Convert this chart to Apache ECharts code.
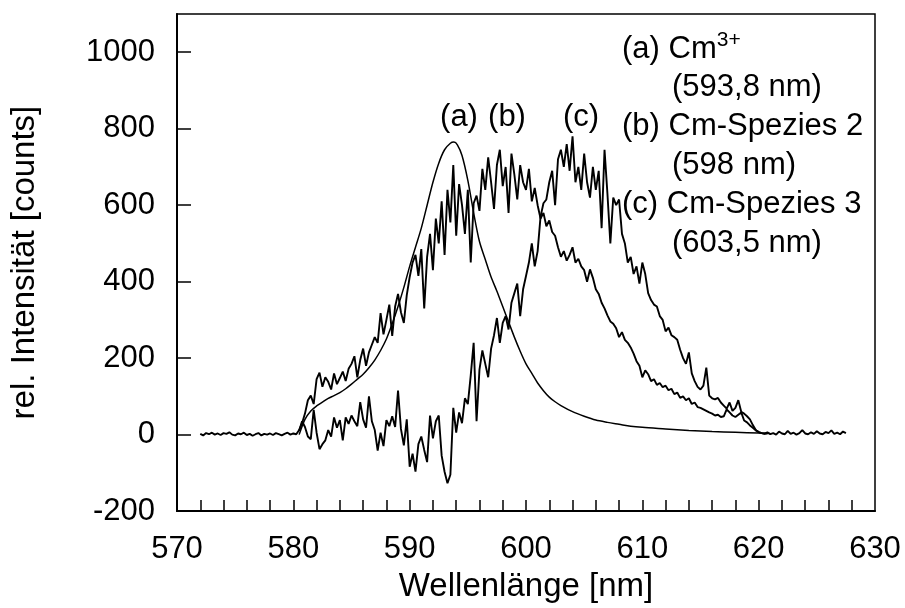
<!DOCTYPE html>
<html>
<head>
<meta charset="utf-8">
<script src="https://cdn.jsdelivr.net/npm/echarts@6/dist/echarts.min.js"></script>
<style>
  html, body { margin: 0; padding: 0; background: #fff; }
  #chart { width: 905px; height: 608px; }
</style>
</head>
<body>
<div id="chart"></div>
<script>
// Wavelength grid (nm) shared by the two measured emission spectra
const wavelengths = [
  572, 572.25, 572.5, 572.75, 573, 573.25, 573.5, 573.75,
  574, 574.25, 574.5, 574.75, 575, 575.25, 575.5, 575.75,
  576, 576.25, 576.5, 576.75, 577, 577.25, 577.5, 577.75,
  578, 578.25, 578.5, 578.75, 579, 579.25, 579.5, 579.75,
  580, 580.25, 580.5, 580.75, 581, 581.25, 581.5, 581.75,
  582, 582.25, 582.5, 582.75, 583, 583.25, 583.5, 583.75,
  584, 584.25, 584.5, 584.75, 585, 585.25, 585.5, 585.75,
  586, 586.25, 586.5, 586.75, 587, 587.25, 587.5, 587.75,
  588, 588.25, 588.5, 588.75, 589, 589.25, 589.5, 589.75,
  590, 590.25, 590.5, 590.75, 591, 591.25, 591.5, 591.75,
  592, 592.25, 592.5, 592.75, 593, 593.25, 593.5, 593.75,
  594, 594.25, 594.5, 594.75, 595, 595.25, 595.5, 595.75,
  596, 596.25, 596.5, 596.75, 597, 597.25, 597.5, 597.75,
  598, 598.25, 598.5, 598.75, 599, 599.25, 599.5, 599.75,
  600, 600.25, 600.5, 600.75, 601, 601.25, 601.5, 601.75,
  602, 602.25, 602.5, 602.75, 603, 603.25, 603.5, 603.75,
  604, 604.25, 604.5, 604.75, 605, 605.25, 605.5, 605.75,
  606, 606.25, 606.5, 606.75, 607, 607.25, 607.5, 607.75,
  608, 608.25, 608.5, 608.75, 609, 609.25, 609.5, 609.75,
  610, 610.25, 610.5, 610.75, 611, 611.25, 611.5, 611.75,
  612, 612.25, 612.5, 612.75, 613, 613.25, 613.5, 613.75,
  614, 614.25, 614.5, 614.75, 615, 615.25, 615.5, 615.75,
  616, 616.25, 616.5, 616.75, 617, 617.25, 617.5, 617.75,
  618, 618.25, 618.5, 618.75, 619, 619.25, 619.5, 619.75,
  620, 620.25, 620.5, 620.75, 621, 621.25, 621.5, 621.75,
  622, 622.25, 622.5, 622.75, 623, 623.25, 623.5, 623.75,
  624, 624.25, 624.5, 624.75, 625, 625.25, 625.5, 625.75,
  626, 626.25, 626.5, 626.75, 627, 627.25, 627.5
];

// (b) Cm-Spezies 2: counts on the full grid (572 ... 627.5 nm)
const specB = [
  2, -2, 4, 1,   5, 0, 3, -1,
  4, 2, 6, 0,   -2, 3, 1, 5,
  -1, 2, -3, 1,   4, -2, 2, 0,
  3, -1, 4, 1,   -2, 2, 5, 0,
  3, 1, 12, 30,   55, 90, 102, 80,
  145, 162, 125, 150,   138, 118, 160, 132,
  148, 165, 140, 172,   185, 205, 150, 195,
  225, 180, 215, 235,   255, 240, 318, 262,
  300, 340, 258, 335,   368, 320, 292, 365,
  412, 450, 470, 415,   485, 330, 465, 525,
  430, 565, 500, 610,   470, 640, 555, 705,
  520, 655, 600, 525,   640, 450, 605, 625,
  585, 695, 640, 725,   660, 590, 705, 745,
  650, 700, 580, 735,   680, 615, 705, 660,
  640, 695, 610, 645,   600, 565, 580, 545,
  560, 530, 520, 490,   465, 480, 455, 470,
  490, 450, 460, 440,   430, 400, 432, 410,
  380, 368, 345, 330,   312, 296, 290, 278,
  255, 268, 248, 240,   228, 212, 192, 180,
  150, 168, 158, 140,   145, 130, 135, 124,
  128, 116, 120, 106,   110, 96, 100, 90,
  95, 80, 84, 72,   70, 66, 62, 58,
  55, 50, 52, 46,   48, 66, 58, 50,
  46, 52, 58, 37,   32, 24, 18, 11,
  7, 4, 2, 6,   1, 4, 0, 8,
  3, 1, 10, 2,   5, 0, 4, 12,
  3, 1, 6, 2,   9, 3, 1, 7,
  4, 11, 2, 5,   1, 8, 4
];

// (c) Cm-Spezies 3: counts from 580.5 nm to 620.75 nm on the same grid
const specCStart = 580.5;
const specC = [
  10, 35,
  20, -5, -12, 65,   5, -38, -25, -15,
  12, -5, 45, 18,   38, -15, 45, 28,
  50, 35, 22, 85,   40, 18, 100, 35,
  12, -42, 5, -30,   38, 22, 48, 20,
  115, 15, -28, 40,   -84, -50, -97, -25,
  -5, -40, -72, 50,   -10, 35, 50, -55,
  -97, -127, -105, 70,   5, 58, 30, 95,
  80, 155, 240, 35,   170, 220, 185, 150,
  225, 260, 305, 240,   292, 310, 275, 345,
  370, 395, 310, 380,   415, 450, 500, 440,
  480, 570, 605, 615,   660, 690, 600, 720,
  745, 700, 760, 690,   780, 660, 700, 640,
  735, 660, 620, 700,   640, 690, 540, 745,
  630, 500, 620, 600,   615, 525, 500, 450,
  465, 420, 440, 395,   450, 420, 370, 352,
  340, 335, 310, 300,   270, 280, 260, 255,
  248, 222, 200, 185,   215, 160, 140, 125,
  118, 128, 175, 102,   95, 92, 96, 84,
  76, 68, 84, 62,   70, 90, 60, 55,
  48, 40, 25, 12,   6, 4, 3, 3
];

// (a) Cm3+ band (smooth trace)
const waveA = [
  580.5, 581, 581.5, 582, 582.5, 583, 583.5, 584, 584.5, 585,
  585.5, 586, 586.5, 587, 587.5, 588, 588.5, 589, 589.5, 590,
  590.5, 591, 591.5, 592, 592.5, 593, 593.5, 593.8, 594.1, 594.5,
  595, 595.5, 596, 596.5, 597, 597.5, 598, 598.5, 599, 599.5,
  600, 600.5, 601, 601.5, 602, 602.5, 603, 604, 605, 606,
  607, 608, 609, 610, 612, 614, 616, 618, 620, 621
];
const specA = [
  0, 40, 62, 75, 85, 95, 102, 110, 120, 132,
  145, 158, 175, 195, 220, 250, 290, 335, 385, 440,
  490, 540, 600, 660, 710, 745, 762, 765, 758, 730,
  665, 580, 505, 458, 412, 375, 335, 295, 255, 218,
  185, 160, 135, 115, 98, 86, 76, 60, 48, 38,
  32, 27, 22, 19, 15, 11, 8, 6, 4, 3
];

// Axis ticks and labels
const xLabelValues = [570, 580, 590, 600, 610, 620, 630];
const xTickValues = [572, 574, 576, 578, 580, 582, 584, 586, 588, 590, 592, 594, 596, 598,
                     600, 602, 604, 606, 608, 610, 612, 614, 616, 618, 620, 622, 624, 626, 628];
const yLabelValues = [-200, 0, 200, 400, 600, 800, 1000];
const yTickValues = [0, 200, 400, 600, 800, 1000];

const FONT = '"Liberation Sans", Arial, Helvetica, sans-serif';

const dataB = wavelengths.map((w, i) => [w, specB[i]]);
const cOffset = wavelengths.indexOf(specCStart);
const dataC = specC.map((v, i) => [wavelengths[cOffset + i], v]);
const dataA = waveA.map((w, i) => [w, specA[i]]);

const chart = echarts.init(document.getElementById('chart'), null, { renderer: 'canvas' });

const noisyLine = { color: '#000', width: 1.9 };
const smoothLine = { color: '#000', width: 1.5 };

function txt(text, x, y, align, size) {
  return {
    type: 'text', x: x, y: y, silent: true,
    style: { text: text, font: (size || 31) + 'px ' + FONT, fill: '#000',
             align: align || 'left', verticalAlign: 'middle' }
  };
}

chart.setOption({
  animation: false,
  backgroundColor: '#fff',
  grid: { left: 176, right: 30, top: 14, bottom: 91.5, show: true,
          borderColor: '#000', borderWidth: 1.5, backgroundColor: 'transparent' },
  xAxis: {
    type: 'value', min: 570, max: 630, interval: 10,
    name: 'Wellenlänge [nm]', nameLocation: 'middle', nameGap: 54,
    nameTextStyle: { fontFamily: FONT, fontSize: 33, color: '#000' },
    axisLine: { show: true, onZero: false, lineStyle: { color: '#000', width: 2 } },
    axisTick: { show: true, inside: true, length: 11, customValues: xTickValues,
                lineStyle: { color: '#000', width: 1.5 } },
    axisLabel: { customValues: xLabelValues, margin: 23, fontFamily: FONT, fontSize: 31,
                 color: '#000', showMinLabel: true, showMaxLabel: true,
                 formatter: v => String(v) },
    splitLine: { show: false }
  },
  yAxis: {
    type: 'value', min: -200, max: 1100, interval: 200,
    name: 'rel. Intensität [counts]', nameLocation: 'middle', nameGap: 136, nameRotate: 90,
    nameTextStyle: { fontFamily: FONT, fontSize: 33, color: '#000' },
    axisLine: { show: true, onZero: false, lineStyle: { color: '#000', width: 2 } },
    axisTick: { show: true, inside: true, length: 14, customValues: yTickValues,
                lineStyle: { color: '#000', width: 1.5 } },
    axisLabel: { customValues: yLabelValues, margin: 22, fontFamily: FONT, fontSize: 31,
                 color: '#000', formatter: v => String(v) },
    splitLine: { show: false }
  },
  series: [
    { name: '(b) Cm-Spezies 2', type: 'line', data: dataB, showSymbol: false,
      lineStyle: noisyLine, z: 3 },
    { name: '(c) Cm-Spezies 3', type: 'line', data: dataC, showSymbol: false,
      lineStyle: noisyLine, z: 3 },
    { name: '(a) Cm3+', type: 'line', data: dataA, showSymbol: false, smooth: 0.3,
      lineStyle: smoothLine, z: 4 }
  ],
  graphic: [
    txt('(a)', 459, 117, 'center'),
    txt('(b)', 507, 117, 'center'),
    txt('(c)', 581, 117, 'center'),
    {
      type: 'text', x: 622, y: 49, silent: true,
      style: {
        text: '{n|(a) Cm}{s|3+}', verticalAlign: 'middle', align: 'left',
        rich: {
          n: { font: '31px ' + FONT, fill: '#000', lineHeight: 38 },
          s: { font: '21px ' + FONT, fill: '#000', verticalAlign: 'top' }
        }
      }
    },
    txt('(593,8 nm)', 672, 87),
    txt('(b) Cm-Spezies 2', 622, 126),
    txt('(598 nm)', 672, 165),
    txt('(c) Cm-Spezies 3', 622, 204),
    txt('(603,5 nm)', 672, 243)
  ]
});
</script>
</body>
</html>
